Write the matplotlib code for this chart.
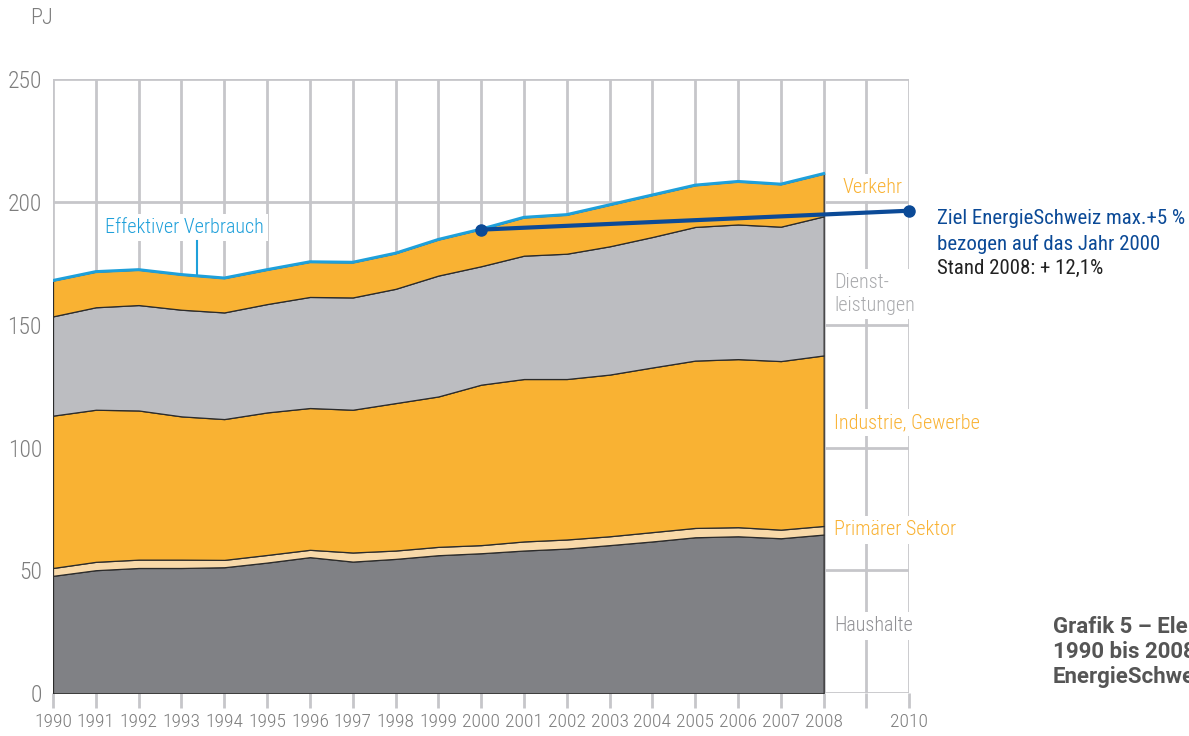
import matplotlib
matplotlib.use("Agg")
import matplotlib.pyplot as plt
from matplotlib import font_manager
import numpy as np

# pick a narrow sans if there is one, otherwise Roboto
names = set(f.name for f in font_manager.fontManager.ttflist)
cands = ['Noto Sans Condensed', 'Roboto Condensed', 'Open Sans Condensed',
         'Liberation Sans Narrow']
narrow = [n for n in cands if n in names]
plt.rcParams['font.family'] = narrow[:1] + ['Roboto', 'DejaVu Sans']
plt.rcParams['font.stretch'] = 'condensed'

# data (PJ)
years = list(range(1990, 2009))
haushalte = [47.8, 50.1, 51.0, 51.0, 51.3, 53.2, 55.4, 53.6, 54.7, 56.2,
             57.0, 58.1, 58.9, 60.3, 61.8, 63.5, 63.9, 63.1, 64.6]
primaer = [3.2, 3.4, 3.4, 3.4, 3.0, 3.1, 3.0, 3.7, 3.4, 3.4,
           3.3, 3.7, 3.7, 3.6, 3.8, 3.8, 3.7, 3.5, 3.5]
industrie = [62.0, 61.9, 60.7, 58.3, 57.3, 58.0, 57.7, 58.1, 60.0, 61.2,
             65.3, 66.1, 65.3, 65.8, 67.0, 68.1, 68.4, 68.6, 69.4]
dienst = [40.4, 41.7, 42.9, 43.4, 43.4, 44.1, 45.2, 45.7, 46.5, 49.2,
          48.2, 50.2, 51.0, 52.2, 53.1, 54.4, 54.8, 54.7, 56.6]
verkehr = [14.6, 14.5, 14.4, 14.3, 14.0, 14.0, 14.3, 14.3, 14.5, 14.7,
           15.1, 15.6, 15.9, 16.9, 17.1, 17.0, 17.5, 17.3, 17.4]

ziel_years = [2000, 2010]
ziel_values = [188.7, 196.4]

xtick_years = list(range(1990, 2011))
xtick_labels = [str(y) if y != 2009 else '' for y in xtick_years]
yticks = [0, 50, 100, 150, 200, 250]

# colours
c_haus = '#808185'
c_prim = '#f8d9a9'
c_orange = '#f9b233'
c_dienst = '#bcbdc1'
c_grid = '#c6c6ca'
c_blue = '#1fa0da'
c_dark_blue = '#0b4a97'
c_text = '#7d7d7d'

total = np.sum([haushalte, primaer, industrie, dienst, verkehr], axis=0)

fig = plt.figure(figsize=(11.89, 7.36), dpi=100)
ax = fig.add_axes([53/1189, 1-693.3/736, (909.3-53)/1189, (693.3-79)/736])

ax.stackplot(years, haushalte, primaer, industrie, dienst, verkehr,
             colors=[c_haus, c_prim, c_orange, c_dienst, c_orange],
             edgecolor='#2b2b2b', linewidth=0.9, zorder=2)
ax.plot(years, total, color=c_blue, lw=2.2, zorder=3)

# target line
ax.plot(ziel_years, ziel_values, color=c_dark_blue, lw=3, marker='o',
        markersize=8, zorder=5, clip_on=False)

ax.set_xlim(1990, 2010)
ax.set_ylim(0, 250)
ax.set_xticks(xtick_years)
ax.set_xticklabels(xtick_labels, fontweight='light')
ax.set_yticks(yticks)
ax.set_yticklabels([str(v) for v in yticks], fontweight='light')
ax.grid(True, color=c_grid, lw=2)
ax.set_axisbelow(True)
for s in ax.spines.values():
    s.set_visible(False)
ax.tick_params(axis='x', length=11, width=2, color=c_grid, labelsize=14,
               labelcolor=c_text, pad=3)
ax.tick_params(axis='y', length=0, labelsize=17, labelcolor=c_text, pad=8)

fig.text(30/1189, 1-18/736, 'PJ', fontsize=16, color=c_text, va='center',
         fontweight='light')

# labels with white boxes that break the gridlines
box = dict(fc='white', ec='none', pad=3)
ax.text(1993.08, 189.6, 'Effektiver Verbrauch', color=c_blue, fontsize=14.5,
        ha='center', va='center', bbox=box, zorder=4, fontweight='light')
ax.plot([1993.36, 1993.36], [184, 170.2], color=c_blue, lw=1.5, zorder=4)

right_labels = [
    ('Verkehr', c_orange, 205.8),
    ('Dienst-\nleistungen', '#a9aaad', 162.5),
    ('Industrie, Gewerbe', c_orange, 110.1),
    ('Primärer Sektor', c_orange, 66.5),
    ('Haushalte', '#909094', 27.4),
]
for txt, col, yv in right_labels:
    x0 = 2008.25 if txt != 'Verkehr' else 2008.45
    ax.text(x0, yv, txt, color=col, fontsize=14.5, ha='left', va='center',
            bbox=box, zorder=4, clip_on=False, linespacing=1.3,
            fontweight='light')

fig.text(937/1189, 1-218/736, 'Ziel EnergieSchweiz max.+5 %',
         color=c_dark_blue, fontsize=15, va='center')
fig.text(937/1189, 1-244/736, 'bezogen auf das Jahr 2000',
         color=c_dark_blue, fontsize=15, va='center')
fig.text(937/1189, 1-268/736, 'Stand 2008: + 12,1%',
         color='#222222', fontsize=15, va='center')

fig.text(1053/1189, 1-652/736,
         'Grafik 5 – Elektrizitätsverbrauch\n1990 bis 2008\nEnergieSchweiz',
         color='#555555', fontsize=16, fontweight='bold', va='center',
         linespacing=1.15, family=['Roboto', 'DejaVu Sans'], stretch='normal')

fig.savefig('out.png', dpi=100)
